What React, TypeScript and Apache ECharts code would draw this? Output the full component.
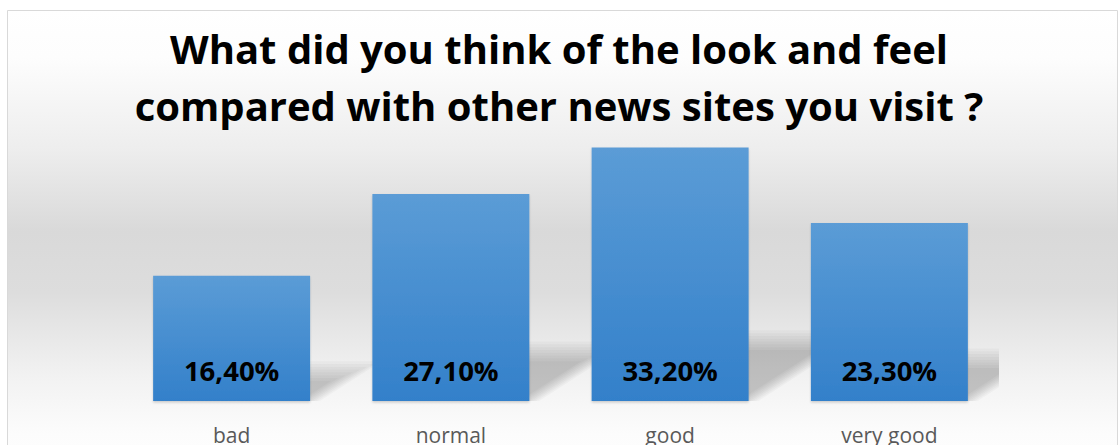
import React, { useEffect, useRef } from "react";
import * as echarts from "echarts";

const categories = ["bad", "normal", "good", "very good"];
const values = [16.4, 27.1, 33.2, 23.3];
const labelTexts = ["16,40%", "27,10%", "33,20%", "23,30%"];
const titleLines = [
  "What did you think of the look and feel",
  "compared with other news sites you visit ?",
];

const BAR_RATIO = 0.716;

export default function App() {
  const ref = useRef<HTMLDivElement>(null);
  useEffect(() => {
    if (!ref.current) return;
    const chart = echarts.init(ref.current, null, { renderer: "svg" });
    const shadowData = values.map((v, i) => [i, v]);
    const option: any = {
      animation: false,
      backgroundColor: "#ffffff",
      title: {
        text: titleLines.join("\n"),
        left: "center",
        top: 15,
        textStyle: {
          fontFamily: "Open Sans",
          fontWeight: "bold",
          fontSize: 40,
          lineHeight: 57,
          color: "#000000",
        },
      },
      graphic: [
        {
          type: "rect",
          z: -10,
          silent: true,
          shape: { x: 7.5, y: 10.5, width: 1110, height: 470 },
          style: {
            stroke: "#d9d9d9",
            lineWidth: 1,
            fill: new echarts.graphic.LinearGradient(0, 0, 0, 1, [
              { offset: 0, color: "#ffffff" },
              { offset: 0.1, color: "#fdfdfd" },
              { offset: 0.3, color: "#ededed" },
              { offset: 0.47, color: "#d9d9d9" },
              { offset: 0.6, color: "#dddddd" },
              { offset: 0.78, color: "#f2f2f2" },
              { offset: 0.9, color: "#fcfcfc" },
              { offset: 1, color: "#ffffff" },
            ]),
          },
        },
      ],
      grid: { left: 122, right: 119, top: 95.6, bottom: 41, containLabel: false },
      xAxis: {
        type: "category",
        data: categories,
        axisLine: { show: false },
        axisTick: { show: false },
        axisLabel: {
          fontFamily: "Open Sans",
          fontSize: 21,
          color: "#595959",
          margin: 23,
        },
      },
      yAxis: {
        type: "value",
        min: 0,
        max: 40,
        show: false,
        splitLine: { show: false },
      },
      series: [
        {
          type: "custom",
          z: 1,
          silent: true,
          clip: true,
          data: shadowData,
          renderItem: (params: any, api: any) => {
            const idx = api.value(0);
            const val = api.value(1);
            const top = api.coord([idx, val]);
            const base = api.coord([idx, 0]);
            const bw = api.size([1, 0])[0] * BAR_RATIO;
            const left = base[0] - bw / 2;
            const right = base[0] + bw / 2;
            const hs = (base[1] - top[1]) * 0.24;
            const shift = hs * 1.55;
            const children: any[] = [];
            const layers = 8;
            for (let k = 0; k < layers; k++) {
              const e = (k - 3.5) * 2.8;
              const h = hs + e;
              const s = shift + e * 1.55;
              children.push({
                type: "polygon",
                shape: {
                  points: [
                    [left, base[1]],
                    [right + e, base[1]],
                    [right + e + s, base[1] - h],
                    [left + s, base[1] - h],
                  ],
                },
                style: { fill: "rgba(0,0,0,0.026)" },
              });
            }
            return { type: "group", children };
          },
        },
        {
          type: "bar",
          z: 3,
          data: values,
          barWidth: (BAR_RATIO * 100).toFixed(1) + "%",
          itemStyle: {
            color: new echarts.graphic.LinearGradient(0, 0, 0, 1, [
              { offset: 0, color: "#5b9cd6" },
              { offset: 1, color: "#3380ca" },
            ]),
            shadowColor: "rgba(0,0,0,0.18)",
            shadowBlur: 2,
            shadowOffsetY: 1.5,
          },
          label: {
            show: true,
            position: "insideBottom",
            distance: 17,
            fontFamily: "Open Sans",
            fontWeight: "bold",
            fontSize: 27.5,
            color: "#000000",
            formatter: (p: any) => labelTexts[p.dataIndex],
          },
        },
      ],
    };
    chart.setOption(option);
    return () => chart.dispose();
  }, []);
  return (
    <div
      ref={ref}
      style={{ position: "fixed", left: 0, top: 0, width: 1118, height: 445 }}
    />
  );
}
